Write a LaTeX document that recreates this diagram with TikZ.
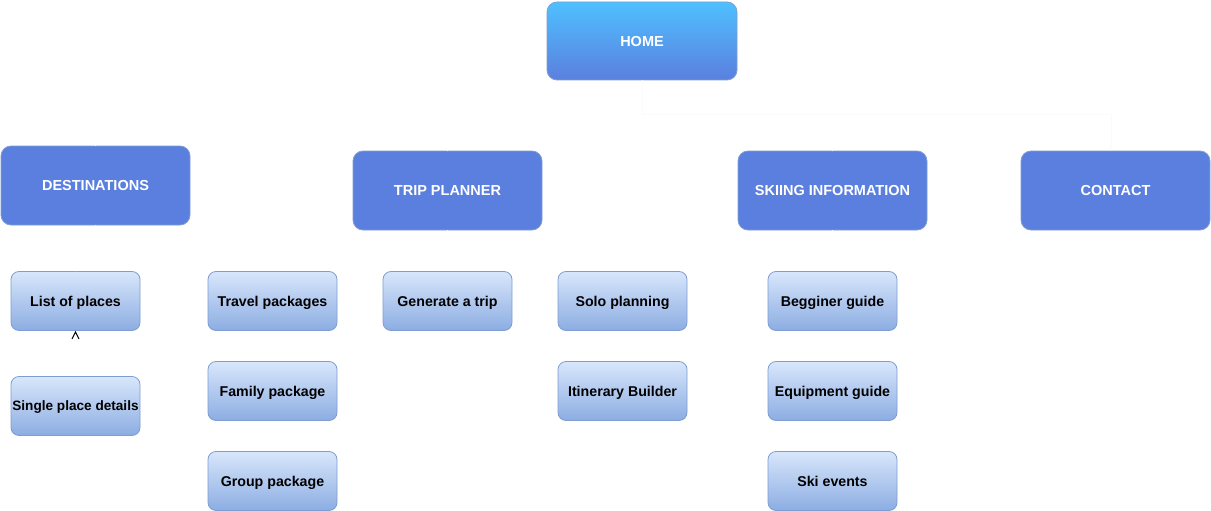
\documentclass[tikz,border=0pt]{standalone}
\usepackage{fontspec}
\setmainfont{Liberation Sans}
\usetikzlibrary{arrows.meta}
\definecolor{topblue}{HTML}{4FC0FF}
\definecolor{midblue}{HTML}{5B7FDE}
\definecolor{boxtop}{HTML}{D8E7FB}
\definecolor{boxbot}{HTML}{8CACE2}
\definecolor{edgeblue}{HTML}{7E9ED3}
\definecolor{faint}{HTML}{FBFBFB}
\tikzset{
  homebox/.style={draw=edgeblue, line width=0.8pt, rounded corners=10pt, minimum width=190pt, minimum height=78pt,
    top color=topblue, bottom color=midblue, text=white, text depth=0pt, font=\fontsize{14.5}{16}\selectfont\bfseries},
  mainbox/.style={draw=edgeblue, line width=0.8pt, rounded corners=10pt, minimum width=189pt, minimum height=79pt,
    fill=midblue, text=white, text depth=0pt, font=\fontsize{14.5}{16}\selectfont\bfseries},
  subbox/.style={draw=edgeblue, line width=0.8pt, rounded corners=8pt, minimum width=129pt, minimum height=59pt,
    top color=boxtop, bottom color=boxbot, text=black, text depth=0pt, inner xsep=0pt,
    font=\fontsize{14.2}{16}\selectfont\bfseries},
  link/.style={draw=white, line width=0.8pt},
  faintlink/.style={draw=faint, line width=0.8pt, -{Stealth[faint,length=5pt,width=5pt]}},
}
\begin{document}
\begin{tikzpicture}[x=1pt,y=-1pt]
\useasboundingbox (0,0) rectangle (1211,511);
\node[homebox] (home) at (642,41) {HOME};
\node[mainbox] (dest) at (95.5,185.5) {DESTINATIONS};
\node[mainbox] (trip) at (447.5,190.5) {TRIP PLANNER};
\node[mainbox] (ski) at (832.5,190.5) {SKIING INFORMATION};
\node[mainbox] (contact) at (1115.5,190.5) {CONTACT};
\node[subbox] (list) at (75.5,301) {List of places};
\node[subbox, font=\fontsize{13.6}{16}\selectfont\bfseries] (single) at (75.5,406) {Single place details};
\node[subbox] (travel) at (272.5,301) {Travel packages};
\node[subbox] (family) at (272.5,391) {Family package};
\node[subbox] (group) at (272.5,481) {Group package};
\node[subbox] (gen) at (447.5,301) {Generate a trip};
\node[subbox] (solo) at (622.5,301) {Solo planning};
\node[subbox] (itin) at (622.5,391) {Itinerary Builder};
\node[subbox] (beg) at (832.5,301) {Begginer guide};
\node[subbox] (equip) at (832.5,391) {Equipment guide};
\node[subbox] (events) at (832.5,481) {Ski events};
% connectors (white, as in the reference)
\draw[link] (home.south) |- (95.5,114) coordinate (hd) -- (hd |- dest.north);
\draw[link] (home.south) |- (447.5,114) coordinate (ht) -- (ht |- trip.north);
\draw[link] (home.south) |- (832.5,114) coordinate (hs) -- (hs |- ski.north);
\draw[link] (dest.south) -- (list.north);
\draw[link] (trip.south) |- (272.5,250) -- (travel.north);
\draw[link] (trip.south) -- (gen.north);
\draw[link] (trip.south) |- (622.5,250) -- (solo.north);
\draw[link] (ski.south) -- (beg.north);
\draw[link] (travel.south) -- (family.north);
\draw[link] (family.south) -- (group.north);
\draw[link] (solo.south) -- (itin.north);
\draw[link] (beg.south) -- (equip.north);
\draw[link] (equip.south) -- (events.north);
\draw[faintlink] (home.south) |- (1111,114) coordinate (hc) -- (hc |- contact.north);
\draw[link, -{Straight Barb[black,length=7pt,width=7pt,line width=1pt]}] (single.north) -- (list.south);
\end{tikzpicture}
\end{document}
